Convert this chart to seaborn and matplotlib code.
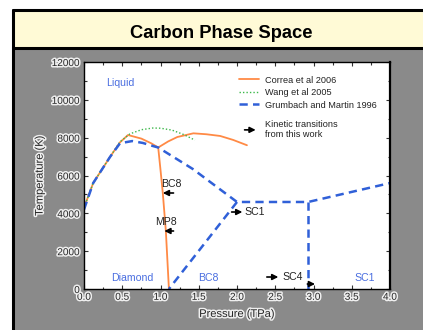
import matplotlib
matplotlib.use("Agg")
import matplotlib.pyplot as plt
import matplotlib.patheffects as pe
from matplotlib.patches import Rectangle, FancyArrowPatch
from matplotlib.lines import Line2D
from matplotlib.legend_handler import HandlerBase
import seaborn as sns
import numpy as np

# ---------------- data ----------------
correa_x = [0.0, 0.12, 0.34, 0.47, 0.575, 0.75, 0.88, 0.97, 1.1, 1.22, 1.43, 1.6, 1.78, 1.95, 2.13]
correa_y = [4300, 5600, 6980, 7750, 8140, 7950, 7700, 7480, 7800, 8035, 8230, 8180, 8090, 7880, 7600]
correa_branch_x = [0.97, 1.0, 1.03, 1.07, 1.11]
correa_branch_y = [7480, 6300, 5075, 3066, 0]

wang_x = [0.0, 0.12, 0.34, 0.47, 0.6, 0.75, 0.9, 1.0, 1.15, 1.3, 1.45]
wang_y = [4300, 5600, 6980, 7780, 8200, 8420, 8510, 8500, 8400, 8170, 7870]

grum_x = [0.0, 0.12, 0.34, 0.47, 0.56, 0.63, 0.77, 0.90, 0.97, 1.42, 2.0, 2.93, 4.0]
grum_y = [4200, 5600, 6980, 7700, 7770, 7820, 7720, 7560, 7480, 6350, 4600, 4600, 5600]
grum_bc8_x = [2.0, 1.11]
grum_bc8_y = [4600, 0]
grum_sc4_x = [2.93, 2.93]
grum_sc4_y = [4600, 0]

arrow_tail_x = [1.17, 1.17, 1.93, 2.39, 2.92]
arrow_head_x = [1.03, 1.05, 2.07, 2.54, 3.02]
arrow_y = [5075, 3066, 4070, 634, 264]

trans_labels = ["BC8", "MP8", "SC1", "SC4"]
trans_label_x = [1.14, 1.07, 2.10, 2.60]
trans_label_y = [5550, 3540, 4070, 634]

phase_labels = ["Liquid", "Diamond", "BC8", "SC1"]
phase_x = [0.47, 0.63, 1.62, 3.67]
phase_y = [10900, 580, 580, 580]

legend_labels = ["Correa et al 2006", "Wang et al 2005", "Grumbach and Martin 1996"]
arrow_legend_label = "Kinetic transitions\nfrom this work"

x_ticks = [0.0, 0.5, 1.0, 1.5, 2.0, 2.5, 3.0, 3.5, 4.0]
y_ticks = [0, 2000, 4000, 6000, 8000, 10000, 12000]

# ---------------- style ----------------
sns.set_style("ticks")
plt.rcParams['font.family'] = ['Liberation Sans', 'DejaVu Sans']

ORANGE = "#ff8a45"
GREEN = "#3cb84a"
BLUE = "#3060d8"
PHASE_BLUE = "#4a6ee0"

fig = plt.figure(figsize=(4.23, 3.30), dpi=100)
fig.patch.set_facecolor("white")

W, H = 423.0, 330.0
# panel: grey body, cream title band, black frame
fig.patches.append(Rectangle((13 / W, 0), 1.0, 1 - 48 / H, transform=fig.transFigure,
                             facecolor="#8a8a8a", edgecolor="none", zorder=0))
fig.patches.append(Rectangle((13 / W, 1 - 48 / H), 1.0, (48 - 10) / H, transform=fig.transFigure,
                             facecolor="#fffad6", edgecolor="none", zorder=0))
fig.add_artist(Line2D([13 / W, 13 / W], [0, 1 - 10 / H], transform=fig.transFigure,
                      color="black", lw=2.2, zorder=1))
fig.add_artist(Line2D([13 / W, 1], [1 - 10 / H, 1 - 10 / H], transform=fig.transFigure,
                      color="black", lw=2.2, zorder=1))
fig.add_artist(Line2D([13 / W, 1], [1 - 48 / H, 1 - 48 / H], transform=fig.transFigure,
                      color="black", lw=2.2, zorder=1))
fig.text(221 / W, 1 - 33 / H, "Carbon Phase Space", ha="center", va="center",
         fontsize=13.2, fontweight="bold", color="black")

ax = fig.add_axes([84 / W, 1 - 289 / H, (390 - 84) / W, (289 - 62) / H])
ax.set_zorder(3)
ax.set_facecolor("white")

halo = [pe.withStroke(linewidth=2.2, foreground="#eeeeee")]

# curves
sns.lineplot(x=correa_x, y=correa_y, ax=ax, color=ORANGE, lw=1.3, sort=False, estimator=None)
sns.lineplot(x=correa_branch_x, y=correa_branch_y, ax=ax, color=ORANGE, lw=1.3, sort=False, estimator=None)
sns.lineplot(x=wang_x, y=wang_y, ax=ax, color=GREEN, lw=1.0, sort=False, estimator=None,
             linestyle=(0, (1, 1.5)))
for gx, gy in [(grum_x, grum_y), (grum_bc8_x, grum_bc8_y), (grum_sc4_x, grum_sc4_y)]:
    sns.lineplot(x=gx, y=gy, ax=ax, color=BLUE, lw=1.8, sort=False, estimator=None,
                 linestyle=(0, (3.3, 2.1)))

# kinetic transition arrows
for xt, xh, yy in zip(arrow_tail_x, arrow_head_x, arrow_y):
    ax.annotate("", xy=(xh, yy), xytext=(xt, yy),
                arrowprops=dict(arrowstyle="-|>", color="black", lw=1.2,
                                mutation_scale=8.5, shrinkA=0, shrinkB=0), zorder=5)
for lab, lx, ly in zip(trans_labels, trans_label_x, trans_label_y):
    ha = "center" if lab in ("BC8", "MP8") else "left"
    ax.text(lx, ly, lab, ha=ha, va="center", fontsize=7.6, color="#222222", zorder=6)

for lab, lx, ly in zip(phase_labels, phase_x, phase_y):
    ax.text(lx, ly, lab, ha="center", va="center", fontsize=7.6, color=PHASE_BLUE)

ax.set_xlim(0, 4)
ax.set_ylim(0, 12000)
ax.set_xticks(x_ticks)
ax.set_xticklabels([f"{v:.1f}" for v in x_ticks])
ax.set_yticks(y_ticks)
ax.set_yticklabels([str(v) for v in y_ticks])
ax.set_xticks(np.arange(0, 4.01, 0.25), minor=True)
ax.set_yticks(np.arange(0, 12001, 1000), minor=True)
ax.tick_params(which="both", direction="in", top=True, right=True, color="#333333", width=0.8)
ax.tick_params(which="major", length=3)
ax.tick_params(which="minor", length=1.8)
ax.tick_params(axis="x", which="major", pad=2, labelsize=7.2)
ax.tick_params(axis="y", which="major", pad=3, labelsize=7.2)
for t in ax.get_xticklabels() + ax.get_yticklabels():
    t.set_path_effects(halo)
for s in ax.spines.values():
    s.set_color("black")
    s.set_linewidth(1.0)
ax.spines["right"].set_linewidth(1.6)

ax.set_xlabel("Pressure (TPa)", fontsize=8, path_effects=halo)
ax.set_ylabel("Temperature (K)", fontsize=8, path_effects=halo)
ax.xaxis.label.set_va("center")
ax.xaxis.set_label_coords(0.5, -0.11)
ax.yaxis.label.set_va("center")
ax.yaxis.set_label_coords(-0.145, 0.5)


class ArrowHandler(HandlerBase):
    def create_artists(self, legend, orig_handle, xdescent, ydescent, width, height,
                       fontsize, trans):
        a = FancyArrowPatch((-xdescent + 0.3 * width, height / 2 - ydescent),
                            (-xdescent + 0.85 * width, height / 2 - ydescent),
                            arrowstyle="-|>", mutation_scale=8.5, color="black", lw=1.2,
                            shrinkA=0, shrinkB=0, transform=trans)
        return [a]


line_handles = [Line2D([], [], color=ORANGE, lw=1.3),
                Line2D([], [], color=GREEN, lw=1.0, linestyle=(0, (1, 1.5))),
                Line2D([], [], color=BLUE, lw=1.8, linestyle=(0, (3.3, 2.1)))]
leg1 = ax.legend(line_handles, legend_labels, loc="upper left", bbox_to_anchor=(0.505, 0.94),
                 frameon=False, fontsize=6.6, handlelength=2.2, handletextpad=0.7,
                 labelspacing=0.38, borderpad=0, borderaxespad=0)
for t in leg1.get_texts():
    t.set_color("#222222")
ax.add_artist(leg1)

arrow_handle = FancyArrowPatch((0, 0), (1, 0))
leg2 = ax.legend([arrow_handle], [arrow_legend_label], loc="upper left",
                 bbox_to_anchor=(0.505, 0.745), frameon=False, fontsize=6.6,
                 handlelength=2.2, handletextpad=0.7, borderpad=0, borderaxespad=0,
                 handler_map={arrow_handle: ArrowHandler()})
for t in leg2.get_texts():
    t.set_color("#222222")

fig.savefig("out.png", dpi=100, facecolor=fig.get_facecolor())
